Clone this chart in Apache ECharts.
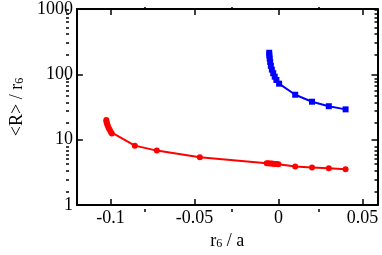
<!DOCTYPE html>
<html><head><meta charset="utf-8">
<script src="https://cdn.jsdelivr.net/npm/echarts@6/dist/echarts.min.js"></script>
<style>html,body{margin:0;padding:0;background:#fff}#c{width:382px;height:255px}</style>
</head><body><div id="c"></div>
<script>
var redX = [-0.1025,-0.1024,-0.1022,-0.1019,-0.1015,-0.1010,-0.1004,-0.0997,-0.0992,-0.0855,-0.0724,-0.0468,-0.0070,-0.0060,-0.0050,-0.0040,-0.0030,-0.0020,-0.0010,0.0000,0.0100,0.0200,0.0300,0.0400];
var redY = [20.0,19.0,18.0,17.0,16.0,15.0,14.0,13.0,12.4,8.1,6.8,5.4,4.36,4.34,4.32,4.30,4.28,4.26,4.24,4.22,3.90,3.76,3.64,3.52];
var blueX = [-0.0055,-0.0054,-0.0052,-0.0049,-0.0045,-0.0039,-0.0031,-0.0022,-0.0012,0.0004,0.0100,0.0200,0.0300,0.0400];
var blueY = [214,195,175,155,135,118,104,92,82,72,48.7,38.1,32.5,29.1];
var xLabels = [-0.1,-0.05,0,0.05];
var xMinor = [-0.075,-0.025,0.025];
var yMajor = [1,10,100,1000];
var yMinor = [2,3,4,5,6,7,8,9,20,30,40,50,60,70,80,90,200,300,400,500,600,700,800,900];

var FONT = 'Liberation Serif';
var FS = 18;
function pairs(xs, ys){ return xs.map(function(v,i){ return [v, ys[i]]; }); }
var XMIN = -0.12, XMAX = 0.059;
var richName = {a:{fontFamily:FONT,fontSize:FS,color:'#000',lineHeight:FS,verticalAlign:'top'},
                s:{fontFamily:FONT,fontSize:12,color:'#000',lineHeight:12,verticalAlign:'bottom'}};
function xAx(grid, pos, major, withLabel, withLine, name){
  var o = {type:'value', position:pos, min:XMIN, max:XMAX, gridIndex:grid,
    splitLine:{show:false},
    axisLine:{show:withLine, onZero:false, lineStyle:{color:'#000', width:2}},
    axisTick:{show:true, inside:true, length: major?6:3, lineStyle:{color:'#000', width:1.5},
      customValues: major ? xLabels : xMinor},
    axisLabel:{show:withLabel, customValues:xLabels, color:'#000', fontFamily:FONT, fontSize:FS, margin:4,
      formatter:function(v){ return String(v); }}
  };
  if (name) {
    o.name = '{a|r}{s|6}{a| / a}';
    o.nameLocation = 'middle'; o.nameGap = 27;
    o.nameTextStyle = {rich:richName, lineHeight:22};
  }
  return o;
}
function yAx(grid, pos, major, withLabel, withLine, name){
  var o = {type:'log', logBase:10, position:pos, min:1, max:1000, gridIndex:grid,
    splitLine:{show:false},
    axisLine:{show:withLine, onZero:false, lineStyle:{color:'#000', width:2}},
    axisTick:{show:true, inside:true, length: major?6:3, lineStyle:{color:'#000', width:1.5},
      customValues: major ? yMajor : yMinor},
    axisLabel:{show:withLabel, customValues:yMajor, color:'#000', fontFamily:FONT, fontSize:FS, margin:4,
      formatter:function(v){ return String(Math.round(v)); }}
  };
  if (name) {
    o.name = '{a|<R> / r}{s|6}';
    o.nameLocation = 'middle'; o.nameGap = 44; o.nameRotate = 90;
    o.nameTextStyle = {rich:richName, lineHeight:22};
  }
  return o;
}
var G = {left:66, top:7, right:4.5, bottom:43, containLabel:false};
var chart = echarts.init(document.getElementById('c'), null, {renderer:'canvas'});
chart.setOption({
  animation:false,
  backgroundColor:'#fff',
  grid:[G, G],
  xAxis:[xAx(0,'bottom',true,true,true,true), xAx(0,'top',true,false,true,false),
         xAx(1,'bottom',false,false,false,false), xAx(1,'top',false,false,false,false)],
  yAxis:[yAx(0,'left',true,true,true,true), yAx(0,'right',true,false,true,false),
         yAx(1,'left',false,false,false,false), yAx(1,'right',false,false,false,false)],
  series:[
    {type:'line', xAxisIndex:0, yAxisIndex:0, data:pairs(redX, redY), symbol:'circle', symbolSize:6,
      itemStyle:{color:'#ff0000'}, lineStyle:{color:'#ff0000', width:2}},
    {type:'line', xAxisIndex:0, yAxisIndex:0, data:pairs(blueX, blueY), symbol:'rect', symbolSize:6,
      itemStyle:{color:'#0000ff'}, lineStyle:{color:'#0000ff', width:2}}
  ]
});
</script></body></html>
